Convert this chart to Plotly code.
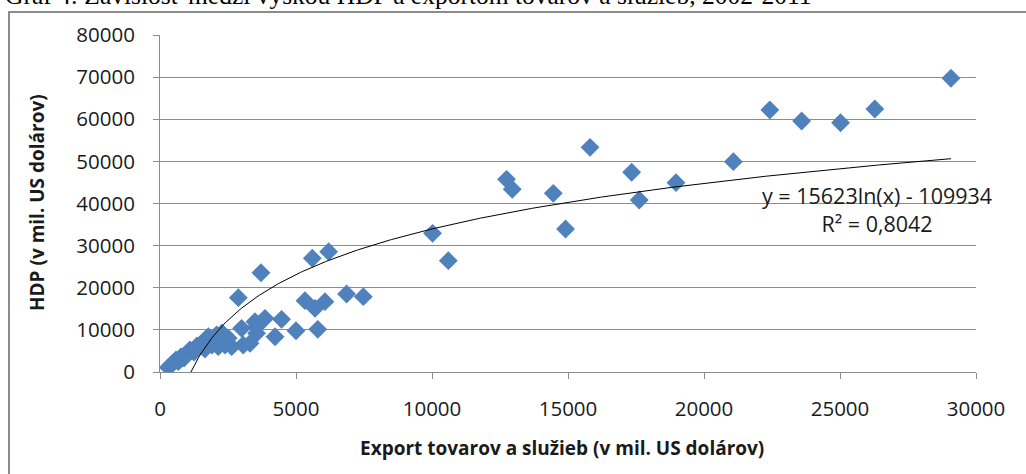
import numpy as np
import plotly.graph_objects as go

# Export of goods and services (mil. USD)
export_vals = [
    29080, 26280, 25020, 23590, 22420, 21080, 18970, 17620, 17340, 15810,
    14910, 14460, 12950, 12740, 10600, 10020,
    7475, 6860, 6200, 6065, 5800, 5700, 5600, 5330, 5000, 4470,
    4230, 3860, 3713, 3550, 3550, 3490, 3310, 3060, 3000, 2880,
    2635, 2510, 2390, 2140, 2080, 1780, 1720, 1590, 1470, 1100,
    920, 673, 306,
    441, 588, 772, 882, 1250, 1360, 1544, 1654, 1764, 1912, 2022, 2169, 2279,
]
# GDP (mil. USD)
gdp_vals = [
    69720, 62440, 59180, 59590, 62200, 49930, 44940, 40830, 47410, 53340,
    33950, 42420, 43370, 45740, 26430, 32920,
    17880, 18520, 28560, 16690, 10130, 15120, 26990, 16930, 9800, 12500,
    8380, 12740, 23570, 10760, 9180, 11940, 6800, 6410, 10370, 17640,
    6010, 8000, 6410, 6010, 8780, 8380, 8000, 6010, 6410, 5220,
    4040, 2450, 1110,
    1900, 2850, 3560, 3320, 4750, 6170, 6650, 5460, 7600, 6410, 8310, 7360, 9260,
]

# Logarithmic trendline as displayed on the chart
trend_a = 15623
trend_b = -109934
trend_label = "y = 15623ln(x) - 109934<br>R² = 0,8042"

x_ticks = [0, 5000, 10000, 15000, 20000, 25000, 30000]
y_ticks = [0, 10000, 20000, 30000, 40000, 50000, 60000, 70000, 80000]

title_text = "Graf 4: Závislosť medzi výškou HDP a exportom tovarov a služieb, 2002-2011"
x_title = "Export tovarov a služieb (v mil. US dolárov)"
y_title = "HDP (v mil. US dolárov)"

W, H = 1026, 474
L, R, T, B = 160, 50, 35, 102
pw, ph = W - L - R, H - T - B


def px_x(p):
    return (p - L) / pw


def px_y(p):
    return (H - B - p) / ph


x_start = np.exp(-trend_b / trend_a)
x_end = max(export_vals)
tx = np.linspace(x_start, x_end, 300)
ty = trend_a * np.log(tx) + trend_b

fig = go.Figure()
fig.add_trace(go.Scatter(
    x=export_vals, y=gdp_vals, mode="markers",
    marker=dict(symbol="diamond", size=14.5, color="#4F81BD", line=dict(width=0)),
    showlegend=False, hoverinfo="x+y",
))
fig.add_trace(go.Scatter(
    x=tx, y=ty, mode="lines", line=dict(color="#000000", width=1),
    showlegend=False, hoverinfo="skip",
))

tick_font = dict(family="Open Sans", size=20.5, color="#1a1a1a")
title_font = dict(family="Open Sans", size=19, color="#1a1a1a")

fig.update_xaxes(
    range=[0, 30000], tickvals=x_ticks, ticktext=[str(v) for v in x_ticks],
    showgrid=False, zeroline=False, showline=True, linecolor="#8c8c8c", linewidth=1,
    ticks="outside", ticklen=6, tickcolor="#8c8c8c", tickfont=tick_font,
    ticklabelstandoff=12, fixedrange=True,
)
fig.update_yaxes(
    range=[0, 80000], tickvals=y_ticks, ticktext=[str(v) for v in y_ticks],
    showgrid=True, gridcolor="#8c8c8c", gridwidth=1, zeroline=False,
    showline=True, linecolor="#8c8c8c", linewidth=1,
    ticks="outside", ticklen=6, tickcolor="#8c8c8c", tickfont=tick_font,
    ticklabelstandoff=14, fixedrange=True,
)

fig.add_annotation(
    text=title_text, xref="paper", yref="paper", x=px_x(3), y=px_y(-4),
    xanchor="left", yanchor="middle", showarrow=False,
    font=dict(family="Liberation Serif", size=25.5, color="#000000"),
)
fig.add_annotation(
    text=f"<b>{x_title}</b>", xref="paper", yref="paper", x=px_x(562), y=px_y(448),
    xanchor="center", yanchor="middle", showarrow=False, font=title_font,
)
fig.add_annotation(
    text=f"<b>{y_title}</b>", xref="paper", yref="paper", x=px_x(37), y=px_y(203),
    xanchor="center", yanchor="middle", showarrow=False, textangle=-90, font=title_font,
)
fig.add_annotation(
    text=trend_label, xref="paper", yref="paper", x=px_x(877), y=px_y(209),
    xanchor="center", yanchor="middle", align="center", showarrow=False,
    font=dict(family="Open Sans", size=21.5, color="#1a1a1a"),
)

# outer chart frame (only top and left edges fall inside the picture)
fig.add_shape(
    type="rect", xref="paper", yref="paper",
    x0=px_x(9), x1=px_x(1040), y0=px_y(490), y1=px_y(12),
    line=dict(color="#8c8c8c", width=2), fillcolor="rgba(0,0,0,0)", layer="below",
)

fig.update_layout(
    width=W, height=H, margin=dict(l=L, r=R, t=T, b=B),
    paper_bgcolor="white", plot_bgcolor="white",
)

fig.write_html(
    "out.html",
    config={"displayModeBar": False},
    post_script="document.body.style.margin='0';document.body.style.overflow='hidden';",
)
